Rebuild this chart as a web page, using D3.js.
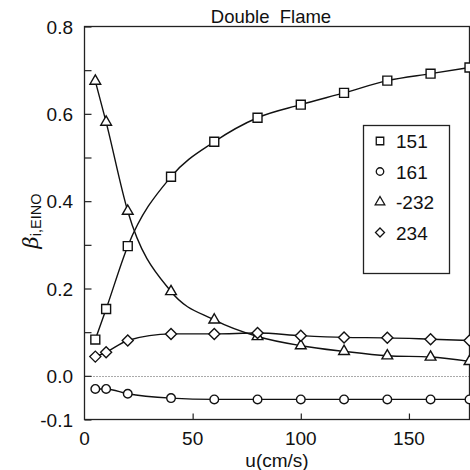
<!DOCTYPE html>
<html>
<head>
<meta charset="utf-8">
<script src="https://cdn.jsdelivr.net/npm/d3@7"></script>
<style>
  html, body { margin: 0; padding: 0; background: #fff; }
  svg text { font-family: "Liberation Sans", Arial, sans-serif; fill: #111; }
</style>
</head>
<body>
<svg id="chart"></svg>
<script>
// data
const u = [5, 10, 20, 40, 60, 80, 100, 120, 140, 160, 178];
const s151 = [0.083, 0.153, 0.297, 0.456, 0.536, 0.591, 0.621, 0.648, 0.676, 0.692, 0.706];
const s161 = [-0.030, -0.030, -0.041, -0.051, -0.054, -0.054, -0.054, -0.054, -0.054, -0.054, -0.054];
const s232 = [0.675, 0.581, 0.377, 0.193, 0.128, 0.090, 0.069, 0.056, 0.046, 0.043, 0.033];
const s234 = [0.044, 0.054, 0.081, 0.096, 0.096, 0.098, 0.092, 0.088, 0.087, 0.084, 0.081];
const seriesNames = ["151", "161", "-232", "234"];
const yTickLabels = ["0.8", "0.6", "0.4", "0.2", "0.0", "-0.1"];
const xTickLabels = ["0", "50", "100", "150"];

const width = 470, height = 470;
const svg = d3.select("#chart").attr("width", width).attr("height", height);

const pLeft = 84.5, pRight = 469.5, pTop = 26.5, pBottom = 419.5;
const x = d3.scaleLinear().domain([0, 178]).range([pLeft, pRight]);
const y = d3.scaleLinear().domain([-0.1, 0.8]).range([pBottom, pTop]);

// zero line (dotted)
svg.append("line")
    .attr("x1", pLeft).attr("x2", pRight)
    .attr("y1", Math.round(y(0)) + 0.5).attr("y2", Math.round(y(0)) + 0.5)
    .attr("stroke", "#555").attr("stroke-width", 1)
    .attr("stroke-dasharray", "1,2");

// frame
svg.append("rect")
    .attr("x", pLeft).attr("y", pTop)
    .attr("width", pRight - pLeft).attr("height", pBottom - pTop)
    .attr("fill", "none").attr("stroke", "#222").attr("stroke-width", 1.3);

// y ticks (inward), every 0.1
const yAxis = d3.axisRight(y)
    .tickValues(d3.range(-0.1, 0.81, 0.1).map(v => +v.toFixed(1)))
    .tickSize(7).tickFormat("");
svg.append("g").attr("transform", `translate(${pLeft},0)`).call(yAxis)
    .call(g => g.select(".domain").remove())
    .call(g => g.selectAll("line").attr("stroke", "#222").attr("stroke-width", 1.2));

svg.selectAll(".ylab").data(yTickLabels).enter().append("text")
    .attr("class", "ylab")
    .attr("x", 73).attr("y", d => y(+d) + 7)
    .attr("text-anchor", "end").attr("font-size", 19)
    .text(d => d);

// x ticks (inward), at 50 100 150
const xAxis = d3.axisTop(x).tickValues([50, 100, 150]).tickSize(6).tickFormat("");
svg.append("g").attr("transform", `translate(0,${pBottom})`).call(xAxis)
    .call(g => g.select(".domain").remove())
    .call(g => g.selectAll("line").attr("stroke", "#222").attr("stroke-width", 1.2));

svg.selectAll(".xlab").data(xTickLabels).enter().append("text")
    .attr("class", "xlab")
    .attr("x", d => x(+d)).attr("y", 445)
    .attr("text-anchor", "middle").attr("font-size", 19)
    .text(d => d);

svg.append("text").attr("x", 277).attr("y", 467)
    .attr("text-anchor", "middle").attr("font-size", 19).text("u(cm/s)");

// title
svg.append("text").attr("x", 271).attr("y", 23)
    .attr("text-anchor", "middle").attr("font-size", 18.5)
    .attr("xml:space", "preserve").text("Double  Flame");

// y label: beta with subscript
const yl = svg.append("text")
    .attr("transform", "translate(38,221) rotate(-90)")
    .attr("text-anchor", "middle");
yl.append("tspan").attr("font-size", 21).attr("font-style", "italic")
    .attr("font-family", "DejaVu Serif, serif").text("β");
yl.append("tspan").attr("font-size", 14.5).attr("dy", 3).text("i,EINO");

// markers
const diamond = {
    draw(ctx, size) {
        const r = Math.sqrt(size) / 2;
        ctx.moveTo(0, -r); ctx.lineTo(r, 0); ctx.lineTo(0, r); ctx.lineTo(-r, 0); ctx.closePath();
    }
};
const symbols = [
    d3.symbol().type(d3.symbolSquare).size(80),
    d3.symbol().type(d3.symbolCircle).size(58),
    d3.symbol().type(d3.symbolTriangle).size(50),
    d3.symbol().type(diamond).size(121)
];
const legendSymbols = [
    d3.symbol().type(d3.symbolSquare).size(56),
    d3.symbol().type(d3.symbolCircle).size(44),
    d3.symbol().type(d3.symbolTriangle).size(40),
    d3.symbol().type(diamond).size(81)
];

const allSeries = [s151, s161, s232, s234];
const line = d3.line().x(d => x(d[0])).y(d => y(d[1])).curve(d3.curveMonotoneX);

const plot = svg.append("g");
allSeries.forEach((vals, i) => {
    const pts = u.map((v, j) => [v, vals[j]]);
    plot.append("path").datum(pts)
        .attr("d", line)
        .attr("fill", "none").attr("stroke", "#111").attr("stroke-width", 1.4);
});
allSeries.forEach((vals, i) => {
    const pts = u.map((v, j) => [v, vals[j]]);
    plot.selectAll(".m" + i).data(pts).enter().append("path")
        .attr("class", "m" + i)
        .attr("transform", d => `translate(${x(d[0])},${y(d[1])})`)
        .attr("d", symbols[i])
        .attr("fill", "#fff").attr("stroke", "#111").attr("stroke-width", 1.4);
});

// legend
const lg = svg.append("g");
lg.append("rect").attr("x", 363.5).attr("y", 125.5).attr("width", 86).attr("height", 148)
    .attr("fill", "#fff").attr("stroke", "#222").attr("stroke-width", 1.3);
seriesNames.forEach((name, i) => {
    const cy = 141 + i * 30.5;
    lg.append("path").attr("transform", `translate(380,${cy})`)
        .attr("d", legendSymbols[i])
        .attr("fill", "#fff").attr("stroke", "#111").attr("stroke-width", 1.3);
    lg.append("text").attr("x", 396).attr("y", cy + 7)
        .attr("font-size", 19).text(name);
});
</script>
</body>
</html>
